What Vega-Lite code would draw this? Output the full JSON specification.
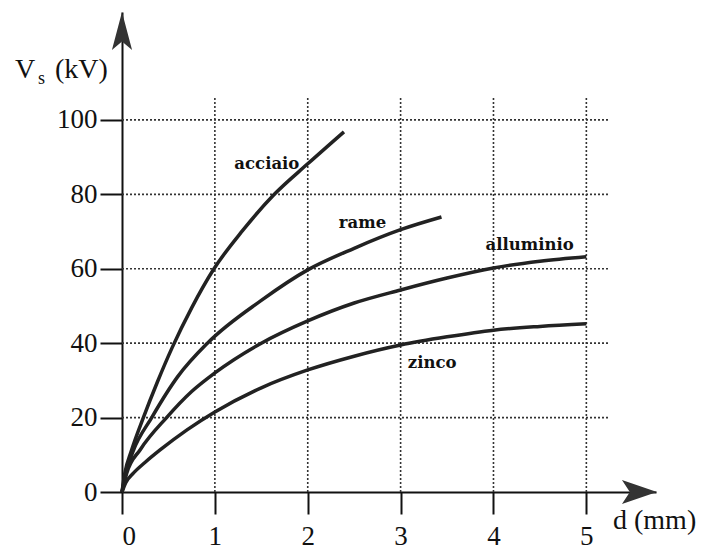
{
  "$schema": "https://vega.github.io/schema/vega-lite/v6.json",
  "width": 534,
  "height": 480,
  "autosize": {"type": "none"},
  "padding": {"left": 122, "top": 12, "right": 49, "bottom": 58},
  "background": "white",
  "config": {
    "view": {"stroke": null},
    "axis": {
      "grid": false,
      "labelFont": "Liberation Serif",
      "labelFontSize": 27,
      "labelColor": "#111",
      "tickColor": "#111",
      "domainColor": "#111",
      "tickWidth": 2,
      "domainWidth": 2,
      "tickSize": 22,
      "title": null
    }
  },
  "datasets": {
    "curves": [
      {"s": "acciaio", "d": 0, "v": 0},
      {"s": "acciaio", "d": 0.03, "v": 5},
      {"s": "acciaio", "d": 0.1, "v": 11},
      {"s": "acciaio", "d": 0.23, "v": 20},
      {"s": "acciaio", "d": 0.38, "v": 29.5},
      {"s": "acciaio", "d": 0.54, "v": 38.8},
      {"s": "acciaio", "d": 0.75, "v": 49.5},
      {"s": "acciaio", "d": 0.98, "v": 59.6},
      {"s": "acciaio", "d": 1.3, "v": 70.3},
      {"s": "acciaio", "d": 1.64, "v": 80},
      {"s": "acciaio", "d": 2.0, "v": 88.2},
      {"s": "acciaio", "d": 2.39, "v": 96.8},
      {"s": "rame", "d": 0, "v": 0},
      {"s": "rame", "d": 0.04, "v": 5},
      {"s": "rame", "d": 0.12, "v": 11},
      {"s": "rame", "d": 0.32, "v": 20},
      {"s": "rame", "d": 0.6, "v": 31},
      {"s": "rame", "d": 0.92, "v": 40},
      {"s": "rame", "d": 1.5, "v": 51.5},
      {"s": "rame", "d": 2.0, "v": 59.7},
      {"s": "rame", "d": 2.5, "v": 65.5},
      {"s": "rame", "d": 3.0, "v": 70.5},
      {"s": "rame", "d": 3.44, "v": 73.9},
      {"s": "alluminio", "d": 0, "v": 0},
      {"s": "alluminio", "d": 0.05, "v": 5},
      {"s": "alluminio", "d": 0.2, "v": 11.5},
      {"s": "alluminio", "d": 0.48, "v": 20},
      {"s": "alluminio", "d": 0.75, "v": 27},
      {"s": "alluminio", "d": 1.0, "v": 32},
      {"s": "alluminio", "d": 1.5, "v": 40},
      {"s": "alluminio", "d": 2.0, "v": 46},
      {"s": "alluminio", "d": 2.5, "v": 50.8},
      {"s": "alluminio", "d": 3.0, "v": 54.3},
      {"s": "alluminio", "d": 3.5, "v": 57.5},
      {"s": "alluminio", "d": 4.0, "v": 60.2},
      {"s": "alluminio", "d": 4.5, "v": 62},
      {"s": "alluminio", "d": 5.0, "v": 63.2},
      {"s": "zinco", "d": 0, "v": 0},
      {"s": "zinco", "d": 0.04, "v": 2.5},
      {"s": "zinco", "d": 0.12, "v": 5},
      {"s": "zinco", "d": 0.25, "v": 8},
      {"s": "zinco", "d": 0.41, "v": 11.3},
      {"s": "zinco", "d": 0.7, "v": 16.7},
      {"s": "zinco", "d": 1.0, "v": 21.5},
      {"s": "zinco", "d": 1.5, "v": 28},
      {"s": "zinco", "d": 2.0, "v": 32.8},
      {"s": "zinco", "d": 2.5, "v": 36.5},
      {"s": "zinco", "d": 3.0, "v": 39.5},
      {"s": "zinco", "d": 3.5, "v": 41.7},
      {"s": "zinco", "d": 4.0, "v": 43.5},
      {"s": "zinco", "d": 4.5, "v": 44.5},
      {"s": "zinco", "d": 5.0, "v": 45.2}
    ],
    "gridv": [
      {"d": 1, "v0": 0, "v1": 106},
      {"d": 2, "v0": 0, "v1": 106},
      {"d": 3, "v0": 0, "v1": 106},
      {"d": 4, "v0": 0, "v1": 106},
      {"d": 5, "v0": 0, "v1": 106}
    ],
    "gridh": [
      {"v": 20, "d0": 0, "d1": 5.25},
      {"v": 40, "d0": 0, "d1": 5.25},
      {"v": 60, "d0": 0, "d1": 5.25},
      {"v": 80, "d0": 0, "d1": 5.25},
      {"v": 100, "d0": 0, "d1": 5.25}
    ],
    "labels": [
      {"t": "acciaio", "d": 1.56, "v": 88.2},
      {"t": "rame", "d": 2.59, "v": 72.3},
      {"t": "alluminio", "d": 4.39, "v": 66.4},
      {"t": "zinco", "d": 3.34, "v": 34.7}
    ],
    "titles": [
      {"t": "V", "d": -1.152, "v": 113.4},
      {"t": "(kV)", "d": -0.721, "v": 113.4},
      {"t": "d (mm)", "d": 5.287, "v": -7.8}
    ],
    "subs": [
      {"t": "s", "d": -0.904, "v": 111.0}
    ],
    "arrowUp": [{"d": 0, "v": 123.9}],
    "arrowRight": [{"d": 5.572, "v": 0}]
  },
  "layer": [
    {
      "data": {"name": "gridv"},
      "mark": {"type": "rule", "strokeDash": [2, 2], "strokeWidth": 1.6, "color": "#333"},
      "encoding": {
        "x": {"field": "d", "type": "quantitative", "scale": {"domain": [0, 5.75], "nice": false, "zero": false},
              "axis": {"values": [0, 1, 2, 3, 4, 5], "labelPadding": 9, "format": "d"}},
        "y": {"field": "v0", "type": "quantitative", "scale": {"domain": [0, 129], "nice": false, "zero": false},
              "axis": {"values": [0, 20, 40, 60, 80, 100], "labelPadding": 3, "format": "d"}},
        "y2": {"field": "v1"}
      }
    },
    {
      "data": {"name": "gridh"},
      "mark": {"type": "rule", "strokeDash": [2, 2], "strokeWidth": 1.6, "color": "#333"},
      "encoding": {
        "y": {"field": "v", "type": "quantitative"},
        "x": {"field": "d0", "type": "quantitative"},
        "x2": {"field": "d1"}
      }
    },
    {
      "data": {"name": "curves"},
      "mark": {"type": "line", "interpolate": "monotone", "strokeWidth": 3.5, "color": "#222"},
      "encoding": {
        "x": {"field": "d", "type": "quantitative"},
        "y": {"field": "v", "type": "quantitative"},
        "detail": {"field": "s", "type": "nominal"}
      }
    },
    {
      "data": {"name": "labels"},
      "mark": {"type": "text", "font": "DejaVu Serif", "fontSize": 16.5, "fontWeight": "bold", "color": "#111", "align": "center", "baseline": "middle"},
      "encoding": {
        "x": {"field": "d", "type": "quantitative"},
        "y": {"field": "v", "type": "quantitative"},
        "text": {"field": "t"}
      }
    },
    {
      "data": {"name": "titles"},
      "mark": {"type": "text", "font": "Liberation Serif", "fontSize": 28, "color": "#111", "align": "left", "baseline": "middle"},
      "encoding": {
        "x": {"field": "d", "type": "quantitative"},
        "y": {"field": "v", "type": "quantitative"},
        "text": {"field": "t"}
      }
    },
    {
      "data": {"name": "subs"},
      "mark": {"type": "text", "font": "Liberation Serif", "fontSize": 18, "color": "#111", "align": "left", "baseline": "middle"},
      "encoding": {
        "x": {"field": "d", "type": "quantitative"},
        "y": {"field": "v", "type": "quantitative"},
        "text": {"field": "t"}
      }
    },
    {
      "data": {"name": "arrowUp"},
      "mark": {"type": "point", "shape": "M0,-1L0.53,1L0,0.55L-0.53,1Z", "size": 1444, "filled": true, "opacity": 1, "color": "#333", "strokeWidth": 0},
      "encoding": {
        "x": {"field": "d", "type": "quantitative"},
        "y": {"field": "v", "type": "quantitative"}
      }
    },
    {
      "data": {"name": "arrowRight"},
      "mark": {"type": "point", "shape": "M1,0L-1,-0.69L-0.55,0L-1,0.69Z", "size": 1225, "filled": true, "opacity": 1, "color": "#333", "strokeWidth": 0},
      "encoding": {
        "x": {"field": "d", "type": "quantitative"},
        "y": {"field": "v", "type": "quantitative"}
      }
    }
  ]
}
